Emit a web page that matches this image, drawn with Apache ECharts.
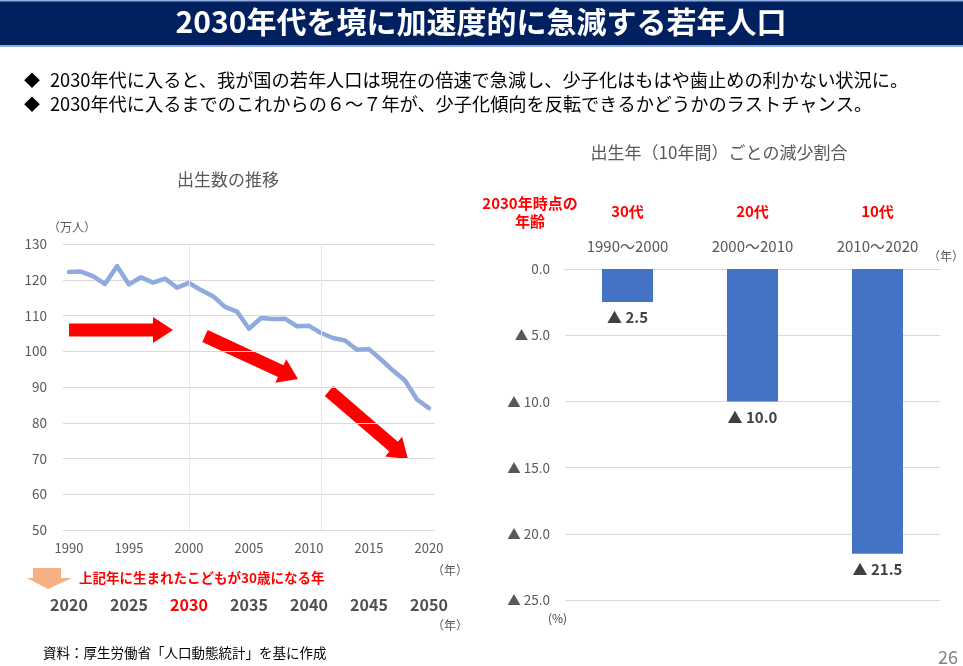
<!DOCTYPE html>
<html>
<head>
<meta charset="utf-8">
<script src="https://cdn.jsdelivr.net/npm/echarts@6/dist/echarts.min.js"></script>
<style>
html,body{margin:0;padding:0;background:#fff;}
#c{width:963px;height:666px;}
</style>
</head>
<body>
<div id="c"></div>
<script>
// ---- data ----
const years = ['1990','1991','1992','1993','1994','1995','1996','1997','1998','1999','2000','2001','2002','2003','2004','2005','2006','2007','2008','2009','2010','2011','2012','2013','2014','2015','2016','2017','2018','2019','2020'];
const births = [122.2,122.3,121.0,118.8,123.8,118.7,120.7,119.2,120.3,117.8,119.1,117.1,115.4,112.4,111.1,106.3,109.3,109.0,109.1,107.0,107.1,105.1,103.7,103.0,100.4,100.6,97.7,94.6,91.8,86.5,84.1];
const periods = ['1990～2000','2000～2010','2010～2020'];
const ages = ['30代','20代','10代'];
const decline = [2.5, 10.0, 21.5];

const F = '"Noto Sans CJK JP","Noto Sans",sans-serif';
const font = (w, s) => w + ' ' + s + 'px ' + F;

function arrow(x1, y1, x2, y2, sw, hw, hl) {
  const dx = x2 - x1, dy = y2 - y1, L = Math.hypot(dx, dy);
  const ux = dx / L, uy = dy / L, nx = -uy, ny = ux;
  const bx = x2 - ux * hl, by = y2 - uy * hl;
  return [
    [x1 + nx * sw / 2, y1 + ny * sw / 2],
    [bx + nx * sw / 2, by + ny * sw / 2],
    [bx + nx * hw / 2, by + ny * hw / 2],
    [x2, y2],
    [bx - nx * hw / 2, by - ny * hw / 2],
    [bx - nx * sw / 2, by - ny * sw / 2],
    [x1 - nx * sw / 2, y1 - ny * sw / 2]
  ];
}
function txt(x, y, text, f, fill, align) {
  return {type:'text', x:x, y:y, silent:true,
    style:{text:text, font:f, fill:fill, textAlign:align || 'left', textVerticalAlign:'middle'}};
}

const chart = echarts.init(document.getElementById('c'), null, {renderer:'canvas'});
const option = {
  animation: false,
  backgroundColor: '#ffffff',
  textStyle: {fontFamily: F},
  grid: [
    {left: 63, top: 244, width: 372, height: 286},
    {left: 565, top: 269, width: 375, height: 331}
  ],
  xAxis: [
    {gridIndex:0, type:'category', data:years, position:'bottom', boundaryGap:true,
     axisLine:{show:false}, axisTick:{show:false},
     axisLabel:{interval:4, color:'#595959', fontSize:13, margin:12}},
    {gridIndex:0, type:'category', data:years, position:'bottom', boundaryGap:true,
     axisLine:{show:false}, axisTick:{show:false},
     axisLabel:{interval:4, margin:67,
       formatter: v => { const y = +v + 30; return (y === 2030 ? '{r|' : '{n|') + y + '}'; },
       rich:{n:{color:'#505050', fontSize:16, fontWeight:'bold', fontFamily:F},
             r:{color:'#FF0000', fontSize:16, fontWeight:'bold', fontFamily:F}}}},
    {gridIndex:1, type:'category', data:periods, position:'top',
     axisLine:{show:true, lineStyle:{color:'#d9d9d9'}}, axisTick:{show:false},
     axisLabel:{color:'#595959', fontSize:15, margin:15}},
    {gridIndex:1, type:'category', data:ages, position:'top',
     axisLine:{show:false}, axisTick:{show:false},
     axisLabel:{color:'#FF0000', fontSize:15, fontWeight:'bold', margin:50}}
  ],
  yAxis: [
    {gridIndex:0, type:'value', min:50, max:130, interval:10,
     axisLine:{show:false}, axisTick:{show:false},
     axisLabel:{color:'#595959', fontSize:13.5, margin:16},
     splitLine:{lineStyle:{color:'#d9d9d9', width:1}}},
    {gridIndex:1, type:'value', inverse:true, min:0, max:25, interval:5,
     axisLine:{show:false}, axisTick:{show:false},
     axisLabel:{color:'#595959', fontSize:13.5, margin:15,
       formatter: v => v === 0 ? '0.0' : '▲ ' + v.toFixed(1)},
     splitLine:{lineStyle:{color:'#d9d9d9', width:1}}}
  ],
  series: [
    {type:'line', xAxisIndex:0, yAxisIndex:0, data:births, showSymbol:false, symbol:'none',
     lineStyle:{color:'#8FAADC', width:4.5, join:'round', cap:'round'},
     markLine:{silent:true, symbol:'none', label:{show:false},
       lineStyle:{color:'#e8e8e8', width:1, type:'solid'},
       data:[{xAxis:'2000'},{xAxis:'2011'}]}},
    {type:'bar', xAxisIndex:2, yAxisIndex:1, data:decline, barWidth:51,
     itemStyle:{color:'#4472C4'},
     label:{show:true, position:'bottom', distance:8, color:'#404040', fontSize:15, fontWeight:'bold',
       formatter: p => '▲ ' + p.value.toFixed(1)}}
  ],
  graphic: [
    {type:'rect', shape:{x:0, y:0, width:963, height:47}, style:{fill:'#8FAADC'}, silent:true},
    {type:'rect', shape:{x:0, y:1.5, width:963, height:43.5}, style:{fill:'#002060'}, silent:true},
    txt(481, 22, '2030年代を境に加速度的に急減する若年人口', font('bold', 30), '#ffffff', 'center'),
    txt(24, 80, '◆', font('normal', 16), '#000000'),
    txt(50, 80, '2030年代に入ると、我が国の若年人口は現在の倍速で急減し、少子化はもはや歯止めの利かない状況に。', font('normal', 18.2), '#000000'),
    txt(24, 104, '◆', font('normal', 16), '#000000'),
    txt(50, 104, '2030年代に入るまでのこれからの６～７年が、少子化傾向を反転できるかどうかのラストチャンス。', font('normal', 18.2), '#000000'),
    txt(228, 180, '出生数の推移', font('normal', 17), '#595959', 'center'),
    txt(48, 227, '（万人）', font('normal', 12), '#595959'),
    txt(719, 153, '出生年（10年間）ごとの減少割合', font('normal', 17), '#595959', 'center'),
    txt(530, 203, '2030年時点の', font('bold', 15), '#FF0000', 'center'),
    txt(530, 221, '年齢', font('bold', 15), '#FF0000', 'center'),
    txt(928, 256, '（年）', font('normal', 12), '#595959'),
    txt(548, 618, '(%)', font('normal', 12), '#404040'),
    txt(432, 570, '（年）', font('normal', 12), '#595959'),
    txt(432, 625, '（年）', font('normal', 12), '#595959'),
    txt(79, 578, '上記年に生まれたこどもが30歳になる年', font('bold', 13.5), '#FF0000'),
    txt(43, 653, '資料：厚生労働省「人口動態統計」を基に作成', font('normal', 13.5), '#000000'),
    txt(958, 657, '26', font('normal', 18), '#808080', 'right'),
    {type:'polygon', silent:true, shape:{points:[[33,568],[61,568],[61,578],[72,578],[48,589],[27,578],[33,578]]}, style:{fill:'#F4B183'}},
    {type:'polygon', silent:true, shape:{points:arrow(69, 330, 173, 330, 13, 26, 20)}, style:{fill:'#FF0000'}},
    {type:'polygon', silent:true, shape:{points:arrow(205, 336, 298, 379, 13, 26, 19)}, style:{fill:'#FF0000'}},
    {type:'polygon', silent:true, shape:{points:arrow(329, 391, 408, 459, 13, 26, 19)}, style:{fill:'#FF0000'}}
  ]
};
chart.setOption(option);
</script>
</body>
</html>
